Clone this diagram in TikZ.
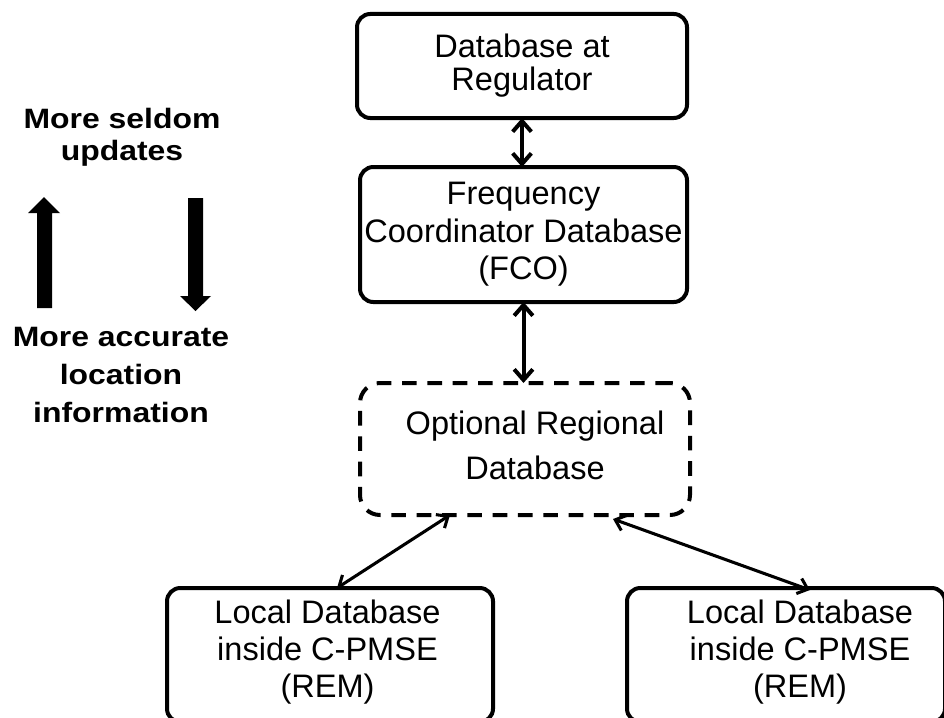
\documentclass[tikz,border=0pt]{standalone}
\usepackage{fontspec}
\setmainfont{Liberation Sans}
\newfontfamily\widebold[FakeStretch=1.14]{Liberation Sans Bold}
\usetikzlibrary{arrows.meta,calc}

\begin{document}
\begin{tikzpicture}[x=0.75pt,y=-0.75pt,
  every node/.style={inner sep=0pt, outer sep=0pt},
  dbbox/.style={draw, line width=3pt, rounded corners=10pt, align=center},
  optbox/.style={dbbox, dash pattern=on 11pt off 8pt, rounded corners=15pt},
  boxtext/.style={align=center},
  link/.style={line width=3pt,
    {Straight Barb[length=8pt,width=14pt]}-{Straight Barb[length=8pt,width=14pt]}},
  slantlink/.style={line width=2.3pt,
    {Straight Barb[length=7pt,width=12pt]}-{Straight Barb[length=7pt,width=12pt]}},
  note/.style={align=center},
  bigarrow/.style={fill=black}
]
\useasboundingbox (0,0) rectangle (944,717);
\clip (0,0) rectangle (944,717);

% database hierarchy
\node[dbbox, minimum width=247.5pt, minimum height=78pt,
      font=\fontsize{24.4pt}{24.8pt}\selectfont] (reg) at (522,66)
  {Database at\\Regulator};
\node[dbbox, minimum width=245.25pt, minimum height=101.25pt,
      font=\fontsize{24.4pt}{28pt}\selectfont] (fco) at (523.5,234.5)
  {Frequency\\Coordinator Database\\(FCO)};
\node[optbox, minimum width=247.5pt, minimum height=99pt] (opt) at (525,449) {};
\node[boxtext, font=\fontsize{24.4pt}{33.7pt}\selectfont] (opttext) at (535,445)
  {Optional Regional\\Database};

\node[dbbox, minimum width=244.5pt, minimum height=100.5pt] (loc1) at (330,655) {};
\node[boxtext, font=\fontsize{24.4pt}{28pt}\selectfont] (loc1text) at (327.5,652)
  {Local Database\\inside C-PMSE\\(REM)};
\node[dbbox, minimum width=238.5pt, minimum height=100.5pt] (loc2) at (786,655) {};
\node[boxtext, font=\fontsize{24.4pt}{28pt}\selectfont] (loc2text) at (800,652)
  {Local Database\\inside C-PMSE\\(REM)};

% links between the databases
\draw[link] (reg.south) -- (reg.south |- fco.north);
\draw[link] (fco.south) -- (fco.south |- opt.north);
\draw[slantlink] ($(loc1.north)+(7,0)$) -- ($(opt.south)+(-75,0)$);
\draw[slantlink] ($(opt.south)+(88,4)$) -- ($(loc2.north)+(24,2)$);

% trade-off legend
\node[note, font=\widebold\fontsize{21pt}{24pt}\selectfont] (seldom) at (122,137)
  {More seldom\\updates};
\node[note, font=\widebold\fontsize{21pt}{28.5pt}\selectfont] (accurate) at (121,375)
  {More accurate\\location\\information};
\fill[bigarrow] (37,308) -- (37,213) -- (28,213) -- (44,197) -- (60,213)
  -- (52,213) -- (52,308) -- cycle;
\fill[bigarrow] (188,198) -- (203,198) -- (203,296) -- (211,296) -- (195.5,311)
  -- (180,296) -- (188,296) -- cycle;
\end{tikzpicture}
\end{document}
